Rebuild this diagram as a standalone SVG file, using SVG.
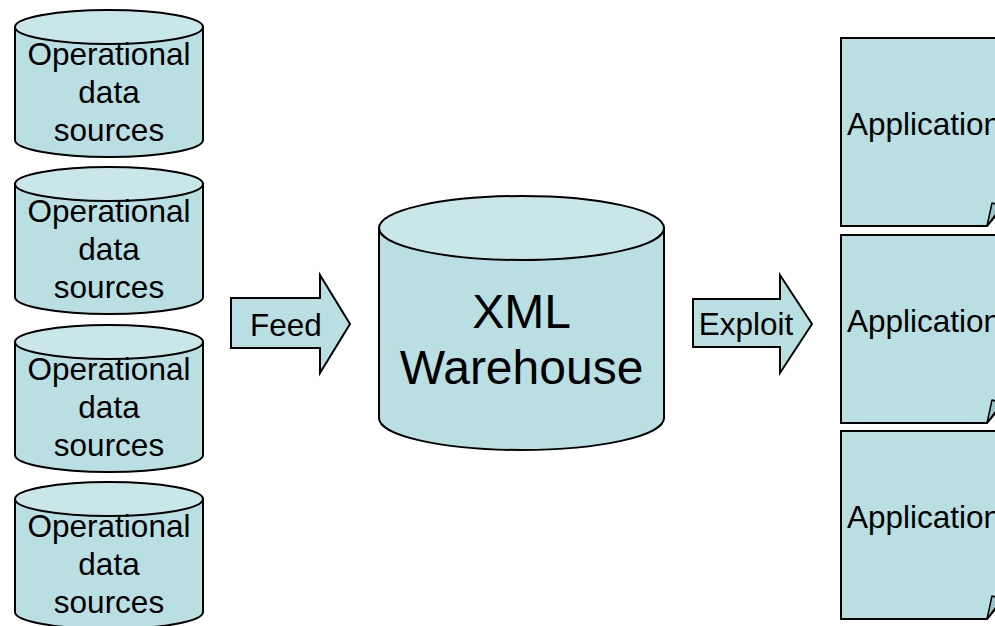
<svg xmlns="http://www.w3.org/2000/svg" width="995" height="626" viewBox="0 0 995 626">
  <style>
    .body { fill: #b9dfe2; stroke: #000; stroke-width: 2; }
    .lid { fill: #c9e7e9; stroke: #000; stroke-width: 2; }
    .fold { fill: #9cc3c7; stroke: #000; stroke-width: 1.5; stroke-linejoin: round; }
    .lbl { font-family: "Liberation Sans", Arial, sans-serif; fill: #000; text-anchor: middle; }
    .s30 { font-size: 31.5px; }
    .s48 { font-size: 48px; }
  </style>
  <defs>
    <!-- small database cylinder, origin at top-left of bounding box -->
    <g id="smallDb">
      <path class="body" d="M15,27 V140 A94,17 0 0 0 203,140 V27 Z"/>
      <ellipse class="lid" cx="109" cy="27" rx="94" ry="17"/>
      <text class="lbl s30" x="109" y="65">Operational</text>
      <text class="lbl s30" x="109" y="103">data</text>
      <text class="lbl s30" x="109" y="141">sources</text>
    </g>
    <!-- application sheet with folded bottom-right corner -->
    <g id="appSheet">
      <path class="body" d="M841,38 H1002 V208 L987,226 H841 Z"/>
      <path class="fold" d="M987,226 L992,203 L1002,206 Z"/>
      <text class="lbl s30" x="847" y="135" style="text-anchor:start">Application</text>
    </g>
  </defs>

  <!-- operational data sources -->
  <g id="source1"><use href="#smallDb"/></g>
  <g id="source2"><use href="#smallDb" transform="translate(0,157)"/></g>
  <g id="source3"><use href="#smallDb" transform="translate(0,315)"/></g>
  <g id="source4"><use href="#smallDb" transform="translate(0,472)"/></g>

  <!-- block arrows between stages -->
  <g id="connectors">
    <g id="feed">
      <path class="body" d="M231,298 H320 V275 L350,324 L320,373 V348 H231 Z"/>
      <text class="lbl s30" x="286" y="336">Feed</text>
    </g>
    <g id="exploit">
      <path class="body" d="M693,299 H780 V275 L812,324 L780,373 V347 H693 Z"/>
      <text class="lbl s30" x="746" y="335">Exploit</text>
    </g>
  </g>

  <!-- central warehouse -->
  <g id="warehouse">
    <path class="body" d="M379,228 V418 A142.5,32 0 0 0 664,418 V228 Z"/>
    <ellipse class="lid" cx="521.5" cy="228" rx="142.5" ry="32"/>
    <text class="lbl s48" x="521.5" y="328">XML</text>
    <text class="lbl s48" x="521.5" y="384">Warehouse</text>
  </g>

  <!-- applications -->
  <g id="app1"><use href="#appSheet"/></g>
  <g id="app2"><use href="#appSheet" transform="translate(0,197)"/></g>
  <g id="app3"><use href="#appSheet" transform="translate(0,393)"/></g>
</svg>
